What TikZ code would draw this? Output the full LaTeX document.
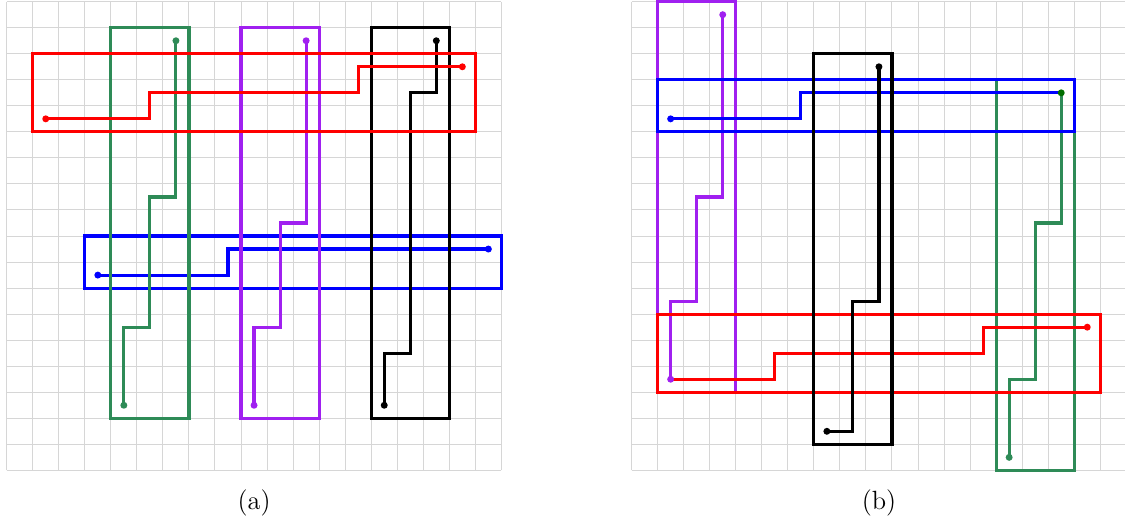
\documentclass[tikz,border=0pt]{standalone}
\usepackage{tikz}
\usetikzlibrary{positioning}
\definecolor{NetGreen}{RGB}{46,139,87}
\definecolor{PinGreen}{RGB}{0,110,0}
\definecolor{NetPurple}{RGB}{160,32,240}
\definecolor{GridGray}{RGB}{214,214,214}

\tikzset{
  net/.style={line width=1.7pt},
  region/.style={line width=1.7pt},
  pin/.style={radius=1.9pt},
  gridline/.style={GridGray, line width=0.55pt}
}

\newcommand{\routegrid}{%
  \foreach \gx in {0,...,19} \draw[gridline] (\gx,0) -- (\gx,18);
  \foreach \gy in {0,...,18} \draw[gridline] (0,\gy) -- (19,\gy);
}

\begin{document}
\begin{tikzpicture}[x=0.5cm, y=0.5cm]
    \useasboundingbox (-0.257,-1.98) rectangle (42.95,18.065);

    % Panel (a)
    \routegrid

    % blue net
    \draw[region, blue] (3,7) rectangle (19,9);
    \draw[net, blue] (3.5,7.5) -- (8.5,7.5) -- (8.5,8.5) -- (18.5,8.5);
    \fill[blue] (3.5,7.5) circle[pin] (18.5,8.5) circle[pin];

    % green net
    \draw[region, NetGreen] (4,2) rectangle (7,17);
    \draw[net, NetGreen] (6.5,16.5) -- (6.5,10.5) -- (5.5,10.5) -- (5.5,5.5) -- (4.5,5.5) -- (4.5,2.5);
    \fill[NetGreen] (6.5,16.5) circle[pin] (4.5,2.5) circle[pin];

    % purple net
    \draw[region, NetPurple] (9,2) rectangle (12,17);
    \draw[net, NetPurple] (11.5,16.5) -- (11.5,9.5) -- (10.5,9.5) -- (10.5,5.5) -- (9.5,5.5) -- (9.5,2.5);
    \fill[NetPurple] (11.5,16.5) circle[pin] (9.5,2.5) circle[pin];

    % black net
    \draw[region, black] (14,2) rectangle (17,17);
    \draw[net, black] (16.5,16.5) -- (16.5,14.5) -- (15.5,14.5) -- (15.5,4.5) -- (14.5,4.5) -- (14.5,2.5);
    \fill[black] (16.5,16.5) circle[pin] (14.5,2.5) circle[pin];

    % red net
    \draw[region, red] (1,13) rectangle (18,16);
    \draw[net, red] (1.5,13.5) -- (5.5,13.5) -- (5.5,14.5) -- (13.5,14.5) -- (13.5,15.5) -- (17.5,15.5);
    \fill[red] (1.5,13.5) circle[pin] (17.5,15.5) circle[pin];

    \node[font=\Large] (capA) at (9.5,-1.25) {(a)};

    % Panel (b)
    \begin{scope}[shift={(24,0)}]
      \routegrid

      % green net
      \draw[region, NetGreen] (14,0) rectangle (17,15);
      \draw[net, NetGreen] (16.5,14.5) -- (16.5,9.5) -- (15.5,9.5) -- (15.5,3.5) -- (14.5,3.5) -- (14.5,0.5);

      % purple net
      \draw[region, NetPurple] (1,3) rectangle (4,18);
      \draw[net, NetPurple] (3.5,17.5) -- (3.5,10.5) -- (2.5,10.5) -- (2.5,6.5) -- (1.5,6.5) -- (1.5,3.5);

      % blue net
      \draw[region, blue] (1,13) rectangle (17,15);
      \draw[net, blue] (1.5,13.5) -- (6.5,13.5) -- (6.5,14.5) -- (16.5,14.5);
      \fill[blue] (1.5,13.5) circle[pin];

      % red net
      \draw[region, red] (1,3) rectangle (18,6);
      \draw[net, red] (1.5,3.5) -- (5.5,3.5) -- (5.5,4.5) -- (13.5,4.5) -- (13.5,5.5) -- (17.5,5.5);
      \fill[red] (17.5,5.5) circle[pin];

      % black net
      \draw[region, black] (7,1) rectangle (10,16);
      \draw[net, black] (9.5,15.5) -- (9.5,6.5) -- (8.5,6.5) -- (8.5,1.5) -- (7.5,1.5);
      \fill[black] (9.5,15.5) circle[pin] (7.5,1.5) circle[pin];

      % pins on top
      \fill[NetGreen] (14.5,0.5) circle[pin];
      \fill[PinGreen] (16.5,14.5) circle[pin];
      \fill[NetPurple] (3.5,17.5) circle[pin] (1.5,3.5) circle[pin];

      \node[font=\Large] (capB) at (9.5,-1.25) {(b)};
    \end{scope}
\end{tikzpicture}
\end{document}
